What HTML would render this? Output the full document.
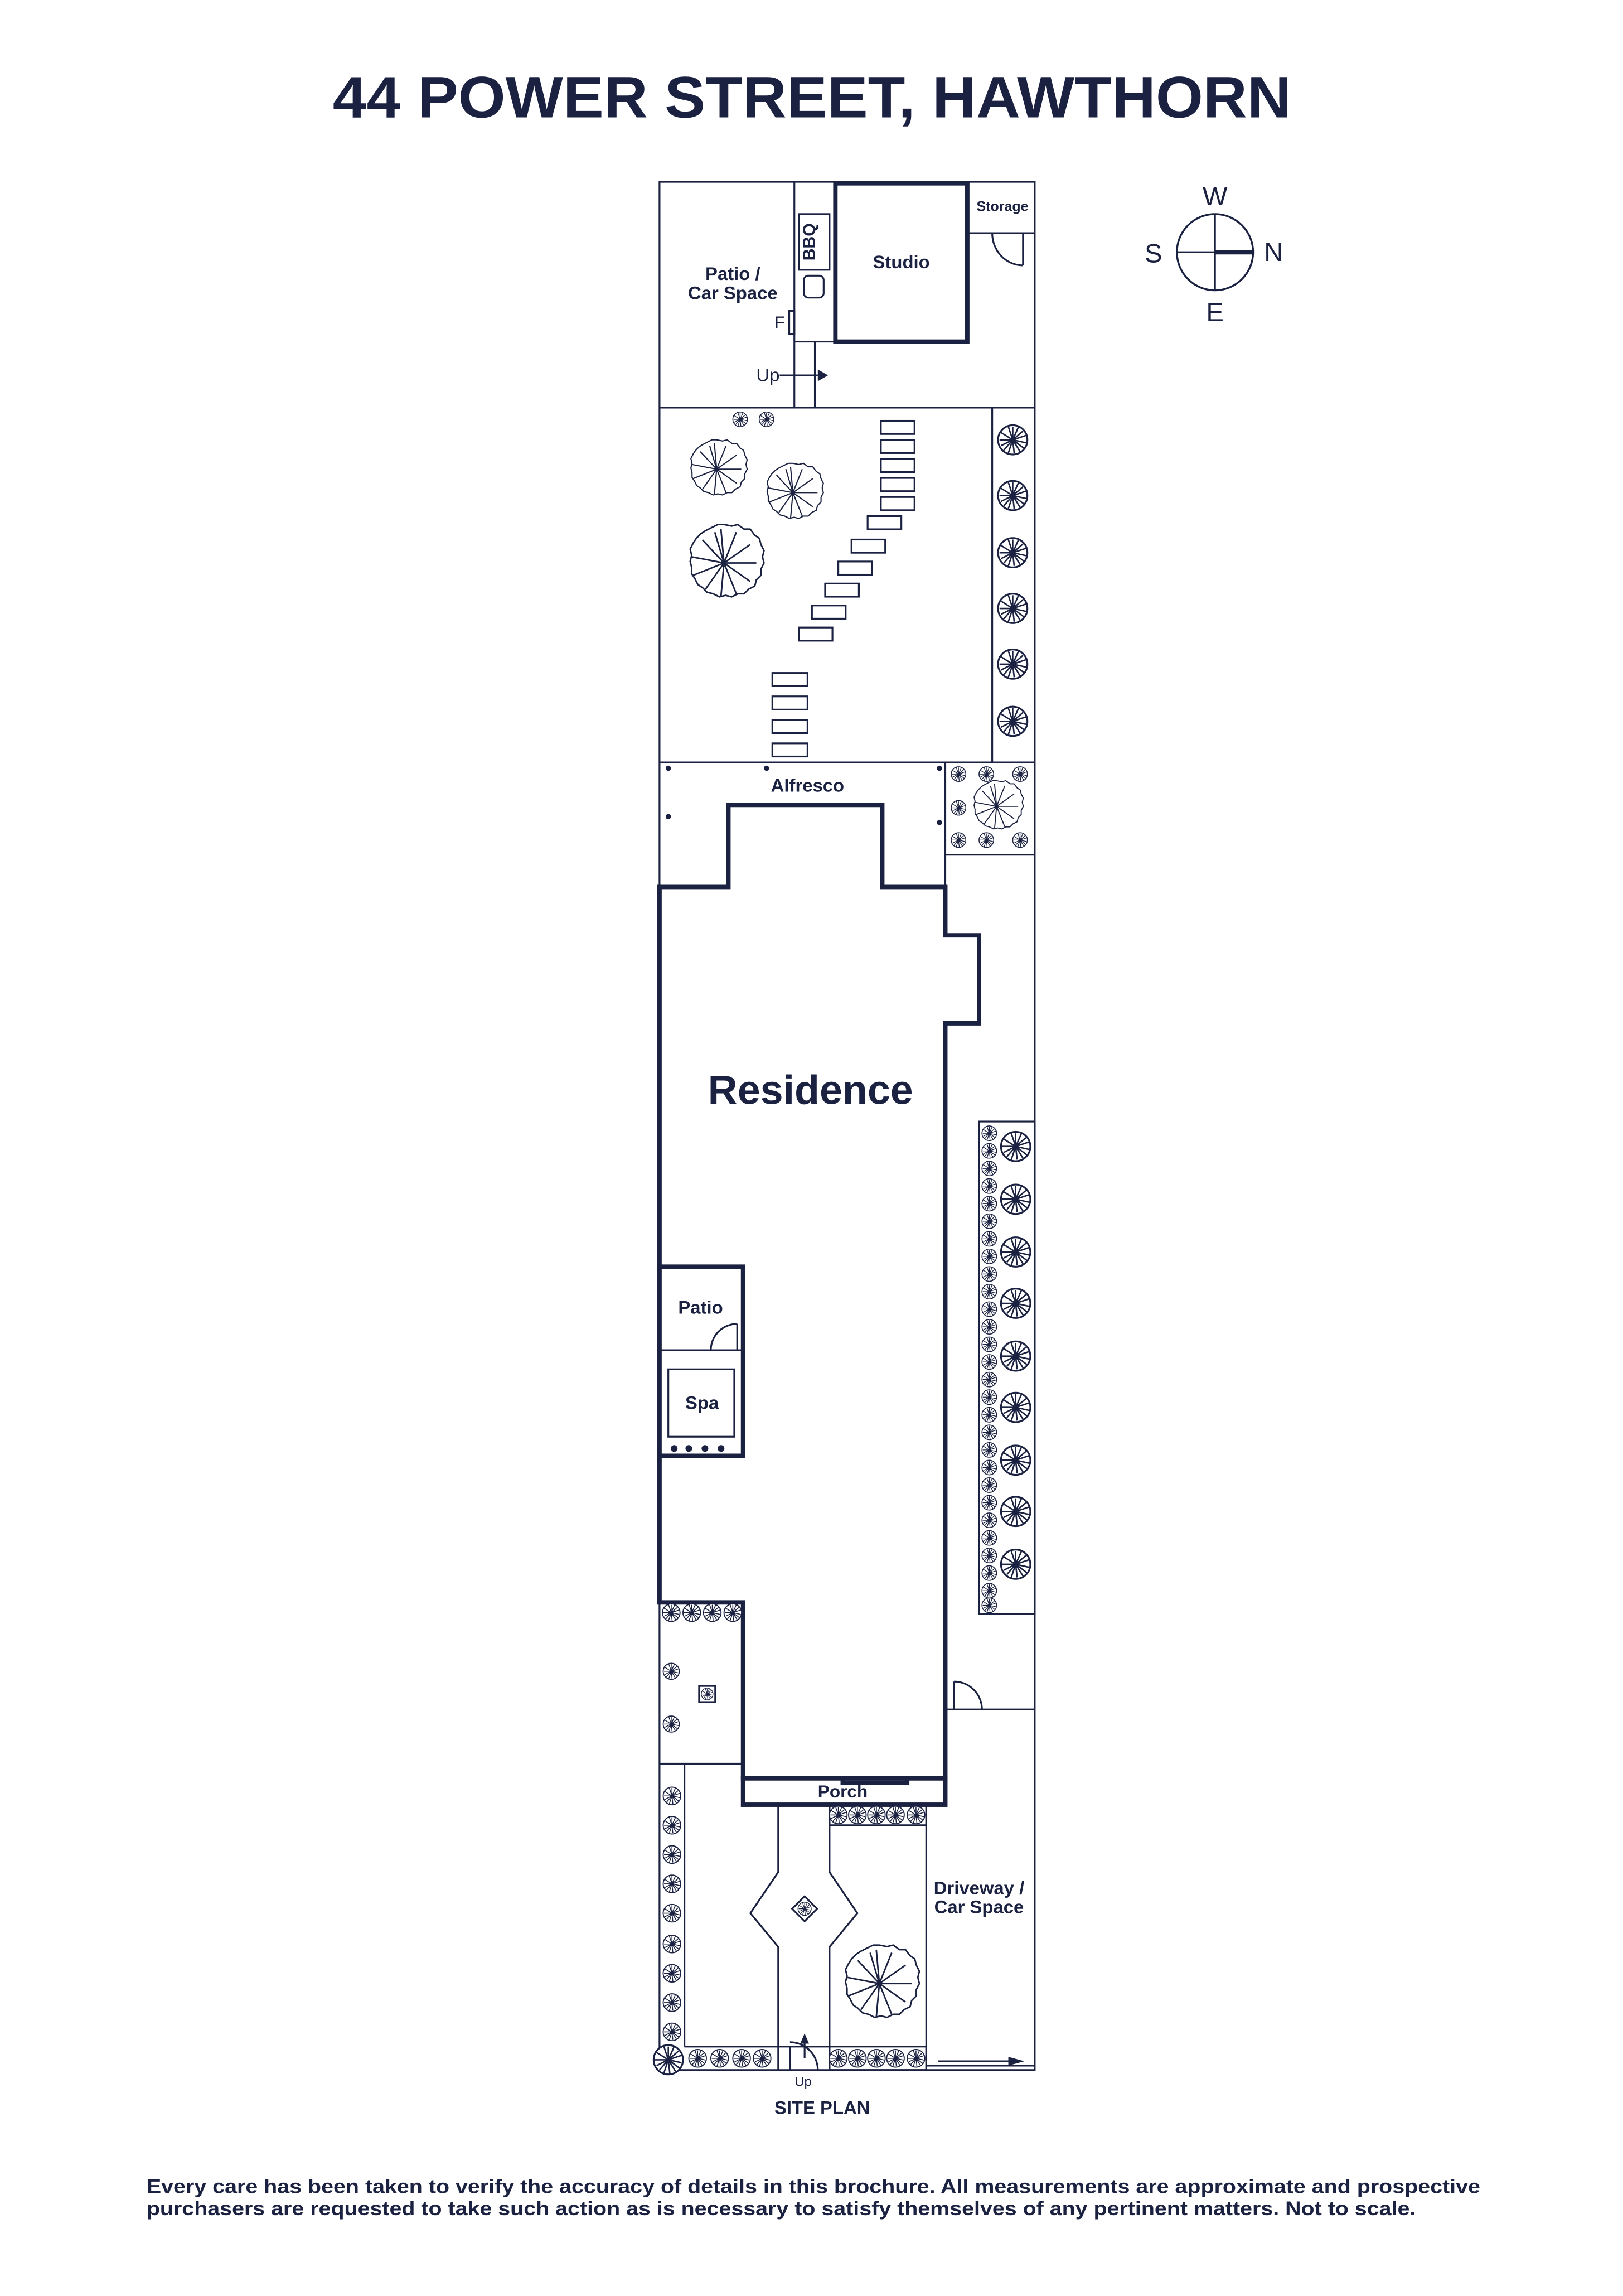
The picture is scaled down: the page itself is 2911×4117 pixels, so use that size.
<!DOCTYPE html>
<html><head><meta charset="utf-8"><style>
html,body{margin:0;padding:0;background:#fff}
svg{display:block}
text{font-family:"Liberation Sans",sans-serif;fill:#1b2140}
</style></head><body>
<svg width="2911" height="4117" viewBox="0 0 1107.4 1566.1" xmlns="http://www.w3.org/2000/svg">
<defs>
<g id="t"><circle r="10" fill="#fff" stroke="#1b2140" stroke-width="1.2"/>
<path d="M0 0L0-9M0 0L7-6M0 0L9 2M0 0L5 8M0 0L-3 9M0 0L-8 4M0 0L-8-5M0 0L-3-9M0 0L4-9M0 0L9-3M0 0L8 6M0 0L1 9M0 0L-6 7M0 0L-9 0" stroke="#1b2140" stroke-width="1"/></g>
<g id="T"><path d="M0-25 l5 1 4-1 4 3 4 0 3 4 3 2 1 4 2 4-1 4 1 4-2 4 0 4-3 3-1 4-4 2-3 3-4 0-4 2-4-1-4 1-4-2-4-1-3-3-3-2-2-4-2-3 0-4-1-4 1-4-1-4 2-4 2-3 3-3 3-2 4-2 4-2z" fill="#fff" stroke="#1b2140" stroke-width="1"/>
<path d="M0 0L-2-22M0 0L8-20M0 0L17-12M0 0L21 0M0 0L17 12M0 0L8 20M0 0L-2 22M0 0L-12 17M0 0L-20 8M0 0L-21-4M0 0L-14-15M0 0L-6-20" stroke="#1b2140" stroke-width="1"/></g>
</defs>
<text x="554" y="80" font-size="40" font-weight="bold" text-anchor="middle" textLength="654" lengthAdjust="spacingAndGlyphs">44 POWER STREET, HAWTHORN</text>

<g fill="none" stroke="#1b2140" stroke-width="1.2">
<rect x="450" y="124" width="256" height="1288"/>
<line x1="542" y1="124" x2="542" y2="278"/>
<line x1="542" y1="233" x2="570" y2="233"/>
<line x1="556" y1="233" x2="556" y2="278"/>
<rect x="545" y="146" width="21" height="38"/>
<rect x="548.5" y="188" width="13.5" height="15" rx="3"/>
<rect x="538.5" y="212" width="3.5" height="16"/>
<line x1="661" y1="159" x2="706" y2="159"/>
<line x1="698" y1="159" x2="698" y2="181"/>
<path d="M677 159 A21 22 0 0 0 698 181"/>
<line x1="450" y1="278" x2="706" y2="278"/>
<line x1="677" y1="278" x2="677" y2="520"/>
<line x1="450" y1="520" x2="706" y2="520"/>
<line x1="645" y1="520" x2="645" y2="605"/>
<line x1="645" y1="583" x2="706" y2="583"/>
<line x1="645" y1="1166" x2="706" y2="1166"/>
<line x1="651" y1="1147" x2="651" y2="1166"/>
<path d="M651 1147 A19 19 0 0 1 670 1166"/>
<line x1="645" y1="1166" x2="645" y2="1230"/>
<rect x="668" y="765" width="38" height="336"/>
<line x1="450" y1="921" x2="507" y2="921"/>
<line x1="503" y1="903" x2="503" y2="921"/>
<path d="M503 903 A18 18 0 0 0 485 921"/>
<rect x="456" y="934" width="45" height="46"/>
<line x1="450" y1="1203" x2="507" y2="1203"/>
<line x1="467" y1="1203" x2="467" y2="1396"/>
<line x1="467" y1="1396" x2="531" y2="1396"/>
<path d="M531 1231 V1277 L512 1305 L531 1328 V1412 M566 1231 V1277 L585 1305 L566 1328 V1412"/>
<rect x="566" y="1231" width="66" height="14"/>
<rect x="566" y="1396" width="66" height="16"/>
<line x1="632" y1="1231" x2="632" y2="1412"/>
<line x1="531" y1="1396" x2="566" y2="1396"/>
<line x1="539" y1="1396" x2="539" y2="1412"/>
<path d="M539 1393 A19 19 0 0 1 558 1412"/>
<line x1="632" y1="1409" x2="706" y2="1409"/>
<path d="M549 1302 l8.5 -8.5 8.5 8.5 -8.5 8.5z" transform="translate(-8.5 0)"/>
<rect x="477" y="1150" width="11" height="11"/>
</g>
<g fill="#fff" stroke="#1b2140" stroke-width="1.2">
<rect x="601" y="287" width="23" height="9"/><rect x="601" y="300" width="23" height="9"/><rect x="601" y="313" width="23" height="9"/><rect x="601" y="326" width="23" height="9"/><rect x="601" y="339" width="23" height="9"/>
<rect x="592" y="352" width="23" height="9"/><rect x="581" y="368" width="23" height="9"/><rect x="572" y="383" width="23" height="9"/><rect x="563" y="398" width="23" height="9"/><rect x="554" y="413" width="23" height="9"/><rect x="545" y="428" width="23" height="9"/>
<rect x="527" y="459" width="24" height="9"/><rect x="527" y="475" width="24" height="9"/><rect x="527" y="491" width="24" height="9"/><rect x="527" y="507" width="24" height="9"/>
</g>
<g fill="none" stroke="#1b2140" stroke-width="3">
<rect x="570" y="125" width="90" height="108"/>
<path d="M450 605 H497 V549 H602 V605 H645 V638 H668 V698 H645 V1213 H619 V1216 H575 V1213 H507 V1093 H450 Z"/>
<path d="M450 864 H507 V993 H450"/>
<rect x="507" y="1213" width="138" height="18"/>
</g>
<path d="M532 256 H558" stroke="#1b2140" stroke-width="1.2"/><path d="M558 252 L565 256 L558 260Z" fill="#1b2140"/>
<path d="M549 1404 V1392" stroke="#1b2140" stroke-width="1.2"/><path d="M546 1394 L549 1387 L552 1394Z" fill="#1b2140"/>
<path d="M640 1406 H690" stroke="#1b2140" stroke-width="1.2"/><path d="M688 1403 L699 1406 L688 1409Z" fill="#1b2140"/>
<g fill="#1b2140"><circle cx="456" cy="524" r="1.8"/><circle cx="523" cy="524" r="1.8"/><circle cx="641" cy="524" r="1.8"/><circle cx="456" cy="557" r="1.8"/><circle cx="641" cy="561" r="1.8"/>
<circle cx="460" cy="988" r="2.3"/><circle cx="470" cy="988" r="2.3"/><circle cx="481" cy="988" r="2.3"/><circle cx="492" cy="988" r="2.3"/></g>

<use href="#T" transform="translate(489 320) scale(0.8)"/>
<use href="#T" transform="translate(541 336) scale(0.8)"/>
<use href="#T" transform="translate(494 384) scale(1.05)"/>
<use href="#T" transform="translate(680 550) scale(0.7)"/>
<use href="#T" transform="translate(600 1353) scale(1.05)"/>
<g>
<use href="#t" transform="translate(505 286) scale(0.5)"/><use href="#t" transform="translate(523 286) scale(0.5)"/>
<use href="#t" transform="translate(691 300) scale(1)"/><use href="#t" transform="translate(691 338)"/><use href="#t" transform="translate(691 377)"/><use href="#t" transform="translate(691 415)"/><use href="#t" transform="translate(691 453)"/><use href="#t" transform="translate(691 492)"/>
<use href="#t" transform="translate(654 528) scale(0.5)"/><use href="#t" transform="translate(673 528) scale(0.5)"/><use href="#t" transform="translate(696 528) scale(0.5)"/><use href="#t" transform="translate(654 551) scale(0.5)"/><use href="#t" transform="translate(654 573) scale(0.5)"/><use href="#t" transform="translate(673 573) scale(0.5)"/><use href="#t" transform="translate(696 573) scale(0.5)"/>
<use href="#t" transform="translate(675 773) scale(0.5)"/><use href="#t" transform="translate(675 785) scale(0.5)"/><use href="#t" transform="translate(675 797) scale(0.5)"/><use href="#t" transform="translate(675 809) scale(0.5)"/><use href="#t" transform="translate(675 821) scale(0.5)"/><use href="#t" transform="translate(675 833) scale(0.5)"/><use href="#t" transform="translate(675 845) scale(0.5)"/><use href="#t" transform="translate(675 857) scale(0.5)"/><use href="#t" transform="translate(675 869) scale(0.5)"/><use href="#t" transform="translate(675 881) scale(0.5)"/><use href="#t" transform="translate(675 893) scale(0.5)"/><use href="#t" transform="translate(675 905) scale(0.5)"/><use href="#t" transform="translate(675 917) scale(0.5)"/><use href="#t" transform="translate(675 929) scale(0.5)"/><use href="#t" transform="translate(675 941) scale(0.5)"/><use href="#t" transform="translate(675 953) scale(0.5)"/><use href="#t" transform="translate(675 965) scale(0.5)"/><use href="#t" transform="translate(675 977) scale(0.5)"/><use href="#t" transform="translate(675 989) scale(0.5)"/><use href="#t" transform="translate(675 1001) scale(0.5)"/><use href="#t" transform="translate(675 1013) scale(0.5)"/><use href="#t" transform="translate(675 1025) scale(0.5)"/><use href="#t" transform="translate(675 1037) scale(0.5)"/><use href="#t" transform="translate(675 1049) scale(0.5)"/><use href="#t" transform="translate(675 1061) scale(0.5)"/><use href="#t" transform="translate(675 1073) scale(0.5)"/><use href="#t" transform="translate(675 1085) scale(0.5)"/><use href="#t" transform="translate(675 1095) scale(0.5)"/>
<use href="#t" transform="translate(693 782)"/><use href="#t" transform="translate(693 818)"/><use href="#t" transform="translate(693 854)"/><use href="#t" transform="translate(693 889)"/><use href="#t" transform="translate(693 925)"/><use href="#t" transform="translate(693 960)"/><use href="#t" transform="translate(693 996)"/><use href="#t" transform="translate(693 1031)"/><use href="#t" transform="translate(693 1067)"/>
<use href="#t" transform="translate(458 1100) scale(0.6)"/><use href="#t" transform="translate(472 1100) scale(0.6)"/><use href="#t" transform="translate(486 1100) scale(0.6)"/><use href="#t" transform="translate(500 1100) scale(0.6)"/>
<use href="#t" transform="translate(458 1140) scale(0.55)"/><use href="#t" transform="translate(458 1176) scale(0.55)"/><use href="#t" transform="translate(482.5 1155.5) scale(0.4)"/>
<use href="#t" transform="translate(458.5 1225) scale(0.6)"/><use href="#t" transform="translate(458.5 1245) scale(0.6)"/><use href="#t" transform="translate(458.5 1265) scale(0.6)"/><use href="#t" transform="translate(458.5 1285) scale(0.6)"/><use href="#t" transform="translate(458.5 1305) scale(0.6)"/><use href="#t" transform="translate(458.5 1326) scale(0.6)"/><use href="#t" transform="translate(458.5 1346) scale(0.6)"/><use href="#t" transform="translate(458.5 1366) scale(0.6)"/><use href="#t" transform="translate(458.5 1386) scale(0.6)"/>
<use href="#t" transform="translate(456 1405) scale(1)"/>
<use href="#t" transform="translate(476 1404) scale(0.6)"/><use href="#t" transform="translate(491 1404) scale(0.6)"/><use href="#t" transform="translate(506 1404) scale(0.6)"/><use href="#t" transform="translate(520 1404) scale(0.6)"/>
<use href="#t" transform="translate(572 1238) scale(0.6)"/><use href="#t" transform="translate(585 1238) scale(0.6)"/><use href="#t" transform="translate(598 1238) scale(0.6)"/><use href="#t" transform="translate(611 1238) scale(0.6)"/><use href="#t" transform="translate(625 1238) scale(0.6)"/>
<use href="#t" transform="translate(572 1404) scale(0.6)"/><use href="#t" transform="translate(585 1404) scale(0.6)"/><use href="#t" transform="translate(598 1404) scale(0.6)"/><use href="#t" transform="translate(611 1404) scale(0.6)"/><use href="#t" transform="translate(625 1404) scale(0.6)"/>
<use href="#t" transform="translate(549 1302) scale(0.45)"/>
</g>

<g font-weight="bold" font-size="12.5" text-anchor="middle">
<text x="500" y="191">Patio /</text><text x="500" y="204">Car Space</text>
<text x="615" y="183">Studio</text>
<text x="684" y="144" font-size="9.5">Storage</text>
<text x="551" y="540">Alfresco</text>
<text x="478" y="896">Patio</text>
<text x="479" y="961">Spa</text>
<text x="575" y="1226" font-size="12">Porch</text>
<text x="668" y="1292">Driveway /</text><text x="668" y="1305">Car Space</text>
<text x="561" y="1442">SITE PLAN</text>
<text x="553" y="753" font-size="28">Residence</text>
</g>
<text x="556" y="165" font-size="11.5" font-weight="bold" text-anchor="middle" transform="rotate(-90 556 165)">BBQ</text>
<text x="532" y="224" font-size="12" text-anchor="middle">F</text>
<text x="524" y="260" font-size="12.5" text-anchor="middle">Up</text>
<text x="548" y="1423" font-size="9" text-anchor="middle">Up</text>

<g stroke="#1b2140" fill="none"><circle cx="829" cy="172" r="26" stroke-width="1.3"/><line x1="803" y1="172" x2="855" y2="172" stroke-width="1.2"/><line x1="829" y1="146" x2="829" y2="198" stroke-width="1.2"/><line x1="829" y1="172" x2="856" y2="172" stroke-width="3"/></g>
<g font-size="18" text-anchor="middle"><text x="829" y="140">W</text><text x="787" y="179">S</text><text x="869" y="178">N</text><text x="829" y="219">E</text></g>

<g font-size="13.5" font-weight="bold"><text x="100" y="1496" textLength="910" lengthAdjust="spacingAndGlyphs">Every care has been taken to verify the accuracy of details in this brochure. All measurements are approximate and prospective</text>
<text x="100" y="1511" textLength="866" lengthAdjust="spacingAndGlyphs">purchasers are requested to take such action as is necessary to satisfy themselves of any pertinent matters. Not to scale.</text></g>
</svg>
</body></html>
